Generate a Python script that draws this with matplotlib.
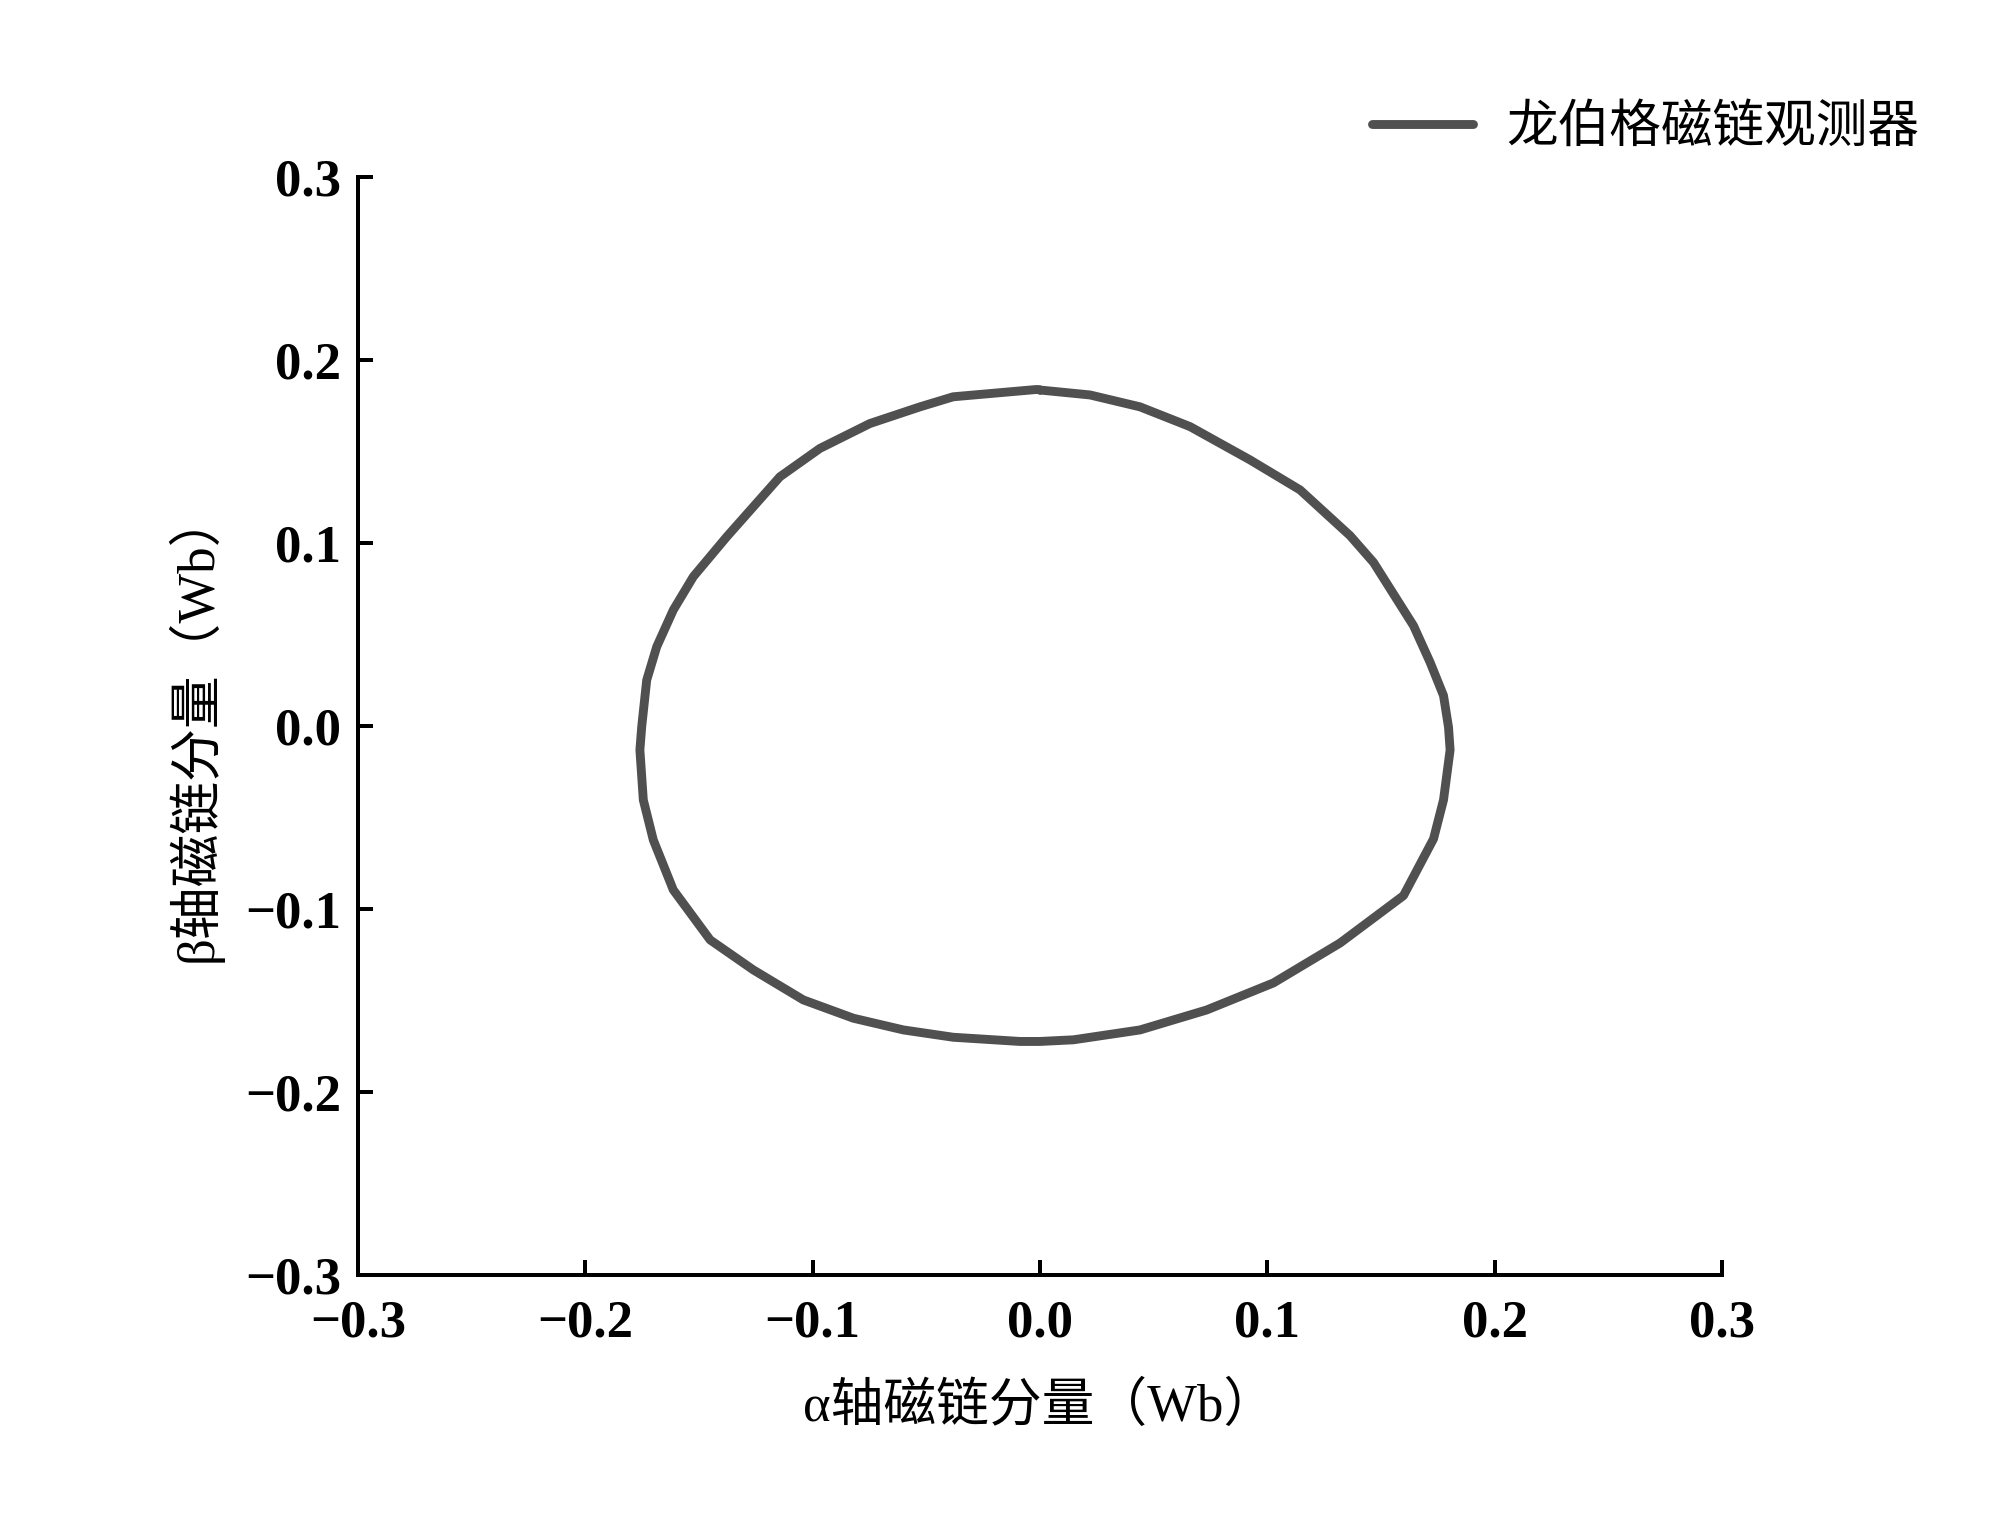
import numpy as np
import matplotlib
matplotlib.use("Agg")
import matplotlib.pyplot as plt

# flux trajectory, clockwise from the top
psi_alpha = [0.0, 0.022, 0.044, 0.066, 0.0924, 0.1144, 0.1364, 0.1467, 0.1643, 0.1716,
             0.1775, 0.1797, 0.1804, 0.1775, 0.1731, 0.1599, 0.1320, 0.1027, 0.0733,
             0.0440, 0.0147, 0.0, -0.0088, -0.0382, -0.0601, -0.0821, -0.1041, -0.1261,
             -0.1451, -0.1613, -0.1701, -0.1745, -0.1760, -0.1752, -0.1730, -0.1686,
             -0.1613, -0.1525, -0.1378, -0.1261, -0.1144, -0.0968, -0.0748, -0.0528,
             -0.0382, -0.0015, 0.0]
psi_beta = [0.1836, 0.1809, 0.1744, 0.1636, 0.1454, 0.1290, 0.1040, 0.0894, 0.0548, 0.0348,
            0.0166, -0.0007, -0.0131, -0.0404, -0.0617, -0.0927, -0.1186, -0.1404, -0.1552,
            -0.1661, -0.1715, -0.1724, -0.1724, -0.1701, -0.1661, -0.1597, -0.1497, -0.1333,
            -0.1169, -0.0896, -0.0623, -0.0404, -0.0131, -0.0004, 0.0251, 0.0433,
            0.0634, 0.0816, 0.1034, 0.1198, 0.1362, 0.1517, 0.1653, 0.1744,
            0.1799, 0.1839, 0.1836]

ticks = [-0.3, -0.2, -0.1, 0.0, 0.1, 0.2, 0.3]
tick_labels = ["\u22120.3", "\u22120.2", "\u22120.1", "0.0", "0.1", "0.2", "0.3"]
series_label = "龙伯格磁链观测器"

fam = ["Liberation Serif", "Noto Sans CJK SC"]
plt.rcParams["font.family"] = fam

fig = plt.figure(figsize=(10, 7.65), dpi=200)
ax = fig.add_axes([0.179, 0.1667, 0.682, 0.7176])

ax.plot(psi_alpha, psi_beta, color="#505050", lw=3.2, label=series_label,
        solid_capstyle="round", solid_joinstyle="round")

ax.set_xlim(-0.3, 0.3)
ax.set_ylim(-0.3, 0.3)
ax.set_xticks(ticks)
ax.set_xticklabels(tick_labels)
ax.set_yticks(ticks)
ax.set_yticklabels(tick_labels)
for lab in ax.get_xticklabels() + ax.get_yticklabels():
    lab.set_fontweight("bold")
    lab.set_fontsize(19)
    lab.set_family(["Liberation Serif", "DejaVu Sans"])

ax.tick_params(axis="x", direction="in", length=5.4, width=1.44, pad=9)
ax.tick_params(axis="y", direction="in", length=5.4, width=1.44, pad=6)
ax.spines["top"].set_visible(False)
ax.spines["right"].set_visible(False)
for s in ("left", "bottom"):
    ax.spines[s].set_linewidth(1.44)

ax.set_xlabel("α轴磁链分量（Wb）", fontsize=19, labelpad=12, family=fam)
ax.set_ylabel("β轴磁链分量（Wb）", fontsize=19, labelpad=8, family=fam)

fig.legend(loc="center left", bbox_to_anchor=(0.686, 0.9157),
           frameon=False, handlelength=1.95, handletextpad=0.65,
           borderaxespad=0, borderpad=0, prop={"family": fam, "size": 18.6})

fig.savefig("out.png", dpi=200, facecolor="white")
